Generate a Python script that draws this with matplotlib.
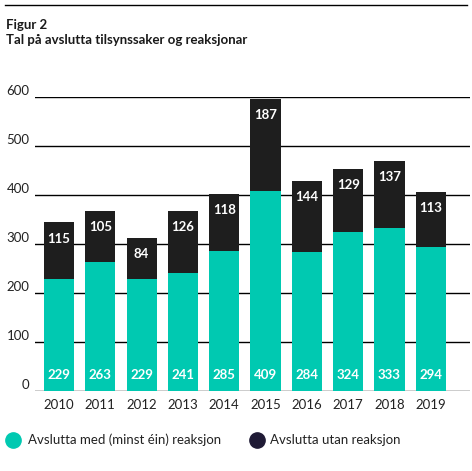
import matplotlib
matplotlib.use("Agg")
import matplotlib.pyplot as plt
from matplotlib.lines import Line2D

years = ["2010", "2011", "2012", "2013", "2014", "2015", "2016", "2017", "2018", "2019"]
with_reaction = [229, 263, 229, 241, 285, 409, 284, 324, 333, 294]
without_reaction = [115, 105, 84, 126, 118, 187, 144, 129, 137, 113]
y_ticks = [0, 100, 200, 300, 400, 500, 600]

GREEN = "#00c9b1"
BLACK = "#1e1e1e"
NAVY = "#1f1a35"

plt.rcParams["font.family"] = ["Lato", "DejaVu Sans"]

fig = plt.figure(figsize=(4.72, 4.71), dpi=100)
ax = fig.add_axes([0.0742, 0.170, 0.9216, 0.624])

x = range(len(years))
ax.bar(x, with_reaction, width=0.73, color=GREEN, zorder=3)
ax.bar(x, without_reaction, bottom=with_reaction, width=0.73, color=BLACK, zorder=3)

for i, (a, b) in enumerate(zip(with_reaction, without_reaction)):
    ax.text(i, 32, str(a), ha="center", va="center", color="white",
            fontsize=9.5, fontweight="bold", zorder=4)
    ax.text(i, a + b - 33, str(b), ha="center", va="center", color="white",
            fontsize=9.5, fontweight="bold", zorder=4)

ax.set_xlim(-0.58, 9.95)
ax.set_ylim(0, 600)
ax.set_yticks(y_ticks)
ax.set_xticks(list(x))
ax.set_xticklabels(years)
ax.tick_params(axis="both", length=0, labelsize=9.5, colors="#222222")
ax.tick_params(axis="y", pad=4)
ax.tick_params(axis="x", pad=6)
for lbl in ax.get_yticklabels():
    lbl.set_verticalalignment("bottom")
ax.grid(axis="y", color="black", linewidth=1, zorder=1)
for s in ax.spines.values():
    s.set_visible(False)

# top rule and titles
fig.add_artist(Line2D([5 / 472, 467 / 472], [1 - 5 / 471, 1 - 5 / 471],
                      color="black", linewidth=1))
fig.text(6 / 472, 1 - 25 / 471, "Figur 2", fontsize=9.5, fontweight="bold",
         va="center", color="#1a1a1a")
fig.text(6 / 472, 1 - 40 / 471, "Tal på avslutta tilsynssaker og reaksjonar",
         fontsize=9.5, fontweight="bold", va="center", color="#1a1a1a")

# legend
ly = 1 - 440 / 471
fig.add_artist(Line2D([13 / 472], [ly], marker="o", markersize=11,
                      color=GREEN, linestyle="none"))
fig.text(28 / 472, ly, "Avslutta med (minst éin) reaksjon", fontsize=9.5,
         va="center", color="#222222")
fig.add_artist(Line2D([257 / 472], [ly], marker="o", markersize=11,
                      color=NAVY, linestyle="none"))
fig.text(270 / 472, ly, "Avslutta utan reaksjon", fontsize=9.5,
         va="center", color="#222222")

fig.savefig("out.png", dpi=100)
